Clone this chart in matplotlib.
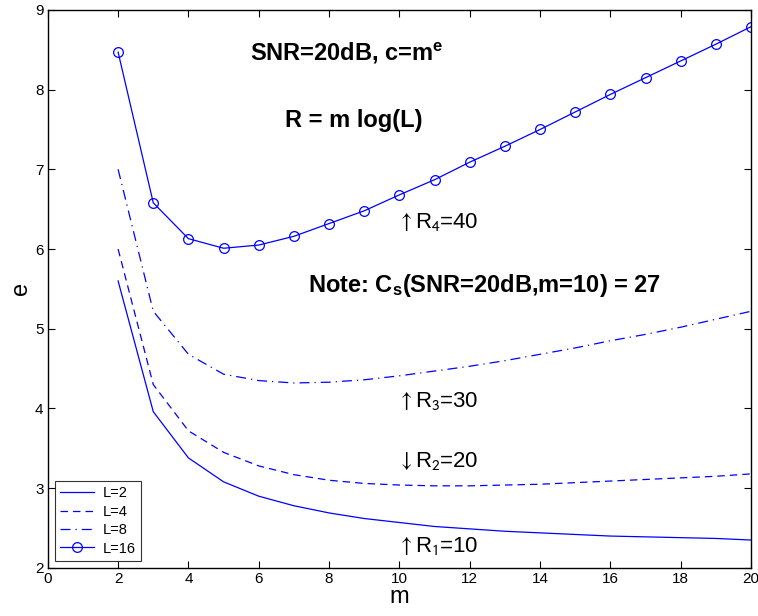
import matplotlib
matplotlib.use("Agg")
import matplotlib.pyplot as plt

m = list(range(2, 21))
e_L2 = [5.6, 3.96, 3.38, 3.08, 2.90, 2.78, 2.69, 2.62, 2.57, 2.52, 2.49, 2.46, 2.44, 2.42, 2.40, 2.39, 2.38, 2.37, 2.35]
e_L4 = [6.0, 4.3, 3.72, 3.45, 3.28, 3.17, 3.10, 3.06, 3.04, 3.03, 3.03, 3.04, 3.05, 3.07, 3.09, 3.11, 3.13, 3.15, 3.18]
e_L8 = [7.0, 5.22, 4.68, 4.43, 4.35, 4.32, 4.33, 4.36, 4.41, 4.47, 4.53, 4.60, 4.68, 4.76, 4.85, 4.93, 5.02, 5.12, 5.22]
e_L16 = [8.47, 6.58, 6.13, 6.01, 6.05, 6.16, 6.32, 6.48, 6.68, 6.87, 7.09, 7.29, 7.50, 7.72, 7.94, 8.15, 8.36, 8.57, 8.79]
labels = ["L=2", "L=4", "L=8", "L=16"]
xticks = list(range(0, 21, 2))
yticks = list(range(2, 10))

plt.rcParams['font.family'] = ['Liberation Sans', 'DejaVu Sans']
plt.rcParams['mathtext.fontset'] = 'custom'
plt.rcParams['mathtext.rm'] = 'Liberation Sans'
plt.rcParams['mathtext.bf'] = 'Liberation Sans:bold'
plt.rcParams['mathtext.it'] = 'Liberation Sans:italic'
fig = plt.figure(figsize=(7.58, 6.16), dpi=100)
ax = fig.add_axes([0.063, 0.078, 0.928, 0.906])
c = '#0000ff'
ax.plot(m, e_L2, '-', color=c, lw=0.9, label=labels[0])
ax.plot(m, e_L4, '--', color=c, lw=0.9, dashes=(6, 4), label=labels[1])
ax.plot(m, e_L8, '-.', color=c, lw=0.9, dashes=(8, 4, 1, 4), label=labels[2])
ax.plot(m, e_L16, '-', color=c, lw=0.9, marker='o', ms=7, mfc='none', mec=c, mew=0.9, label=labels[3])

ax.set_xlim(0, 20)
ax.set_ylim(2, 9)
ax.set_xticks(xticks)
ax.set_yticks(yticks)
ax.tick_params(direction='in', top=True, right=True, labelsize=11, length=5, width=0.8, pad=3)
for s in ax.spines.values():
    s.set_linewidth(1.0)
ax.set_xlabel('m', fontsize=17, labelpad=0)
ax.set_ylabel('e', fontsize=17, labelpad=2)

bold = dict(fontsize=17, fontweight='bold', ha='left', va='baseline')
ax.text(5.75, 8.37, r'SNR=20dB, c=m$^{\mathbf{e}}$', **bold)
ax.text(6.74, 7.53, 'R = m log(L)', **bold)
ax.text(7.40, 5.46, r'Note: C$_{\mathbf{s}}$(SNR=20dB,m=10) = 27', **bold)
norm = dict(fontsize=16, ha='left', va='baseline', math_fontfamily='stixsans')
ax.text(9.93, 6.26, r'$\uparrow$R$_4$=40', **norm)
ax.text(9.93, 4.02, r'$\uparrow$R$_3$=30', **norm)
ax.text(9.93, 3.27, r'$\downarrow$R$_2$=20', **norm)
ax.text(9.93, 2.20, r'$\uparrow$R$_1$=10', **norm)

leg = ax.legend(loc='lower left', fontsize=10.5, frameon=True, fancybox=False, edgecolor='black',
                borderaxespad=0.5, handlelength=2.3, labelspacing=0.3, borderpad=0.35, handletextpad=0.6)
leg.get_frame().set_linewidth(0.8)

fig.savefig('out.png', dpi=100)
